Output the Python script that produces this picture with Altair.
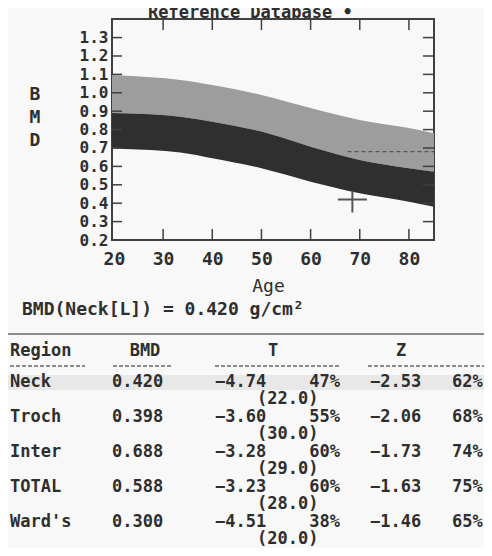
import altair as alt
import pandas as pd

# ---------------- data ----------------
ages = [19.5, 27.5, 33.5, 40, 50, 60, 70, 80, 85.5]
upper = [1.097, 1.084, 1.07, 1.042, 0.988, 0.917, 0.852, 0.808, 0.778]
middle = [0.89, 0.883, 0.87, 0.843, 0.789, 0.707, 0.635, 0.59, 0.569]
lower = [0.698, 0.689, 0.675, 0.644, 0.59, 0.517, 0.454, 0.408, 0.379]

patient_age = [68.5]
patient_bmd = [0.420]
dash_age = [67.5, 85.1]
dash_bmd = [0.68, 0.68]

y_tick_values = [0.3, 0.4, 0.5, 0.6, 0.7, 0.8, 0.9, 1.0, 1.1, 1.2, 1.3]
x_tick_values = [30, 40, 50, 60, 70, 80]
y_label_values = [0.2, 0.3, 0.4, 0.5, 0.6, 0.7, 0.8, 0.9, 1.0, 1.1, 1.2, 1.3]
x_label_values = [20, 30, 40, 50, 60, 70, 80]

regions = ["Neck", "Troch", "Inter", "TOTAL", "Ward's"]
bmd_vals = ["0.420", "0.398", "0.688", "0.588", "0.300"]
t_scores = ["−4.74", "−3.60", "−3.28", "−3.23", "−4.51"]
t_pct = ["47%", "55%", "60%", "60%", "38%"]
t_age = ["(22.0)", "(30.0)", "(29.0)", "(28.0)", "(20.0)"]
z_scores = ["−2.53", "−2.06", "−1.73", "−1.63", "−1.46"]
z_pct = ["62%", "68%", "74%", "75%", "65%"]
headers = ["Region", "BMD", "T", "Z"]

# ---------------- style ----------------
FONT = "DejaVu Sans Mono"
FS = 18
TXT = "#2e2e2e"
LIGHT = "#9d9d9d"
DARK = "#2f2f2f"
FRAME = "#404040"

X_DOM = [19.6, 85.1]
Y_DOM = [0.2, 1.401]

x_axis = alt.Axis(values=x_label_values, title="Age", labelFont=FONT, labelFontSize=FS,
                  labelFontWeight="bold", labelColor=TXT, labelPadding=10, ticks=False,
                  tickSize=0, domain=False, grid=False, labelFlush=False,
                  titleFont=FONT, titleFontSize=FS, titleFontWeight="normal",
                  titleColor=TXT, titlePadding=9, titleX=156)
y_axis = alt.Axis(values=y_label_values, title=None, format=".1f", labelFont=FONT,
                  labelFontSize=16, labelFontWeight="bold", labelColor=TXT,
                  labelPadding=4, ticks=False, tickSize=0, domain=False, grid=False,
                  labelFlush=False)

X = lambda f: alt.X(f, type="quantitative", scale=alt.Scale(domain=X_DOM, nice=False, zero=False), axis=x_axis)
Y = lambda f: alt.Y(f, type="quantitative", scale=alt.Scale(domain=Y_DOM, nice=False, zero=False), axis=y_axis)

curve = pd.DataFrame({"age": ages, "upper": upper, "middle": middle, "lower": lower})

band_light = alt.Chart(curve).mark_area(color=LIGHT, interpolate="monotone", clip=True).encode(
    x=X("age"), y=Y("upper"), y2="middle")
band_dark = alt.Chart(curve).mark_area(color=DARK, interpolate="monotone", clip=True).encode(
    x=X("age"), y=Y("middle"), y2="lower")

dash = alt.Chart(pd.DataFrame({"age": dash_age, "bmd": dash_bmd})).mark_line(
    color="#555555", strokeDash=[4, 3], strokeWidth=1.3, clip=True).encode(x=X("age"), y=Y("bmd"))

cross = alt.Chart(pd.DataFrame({"age": patient_age, "bmd": patient_bmd})).mark_point(
    shape="M-1,0L1,0M0,-0.55L0,0.9", size=841, filled=False, color="#555555",
    strokeWidth=2, opacity=1).encode(x=X("age"), y=Y("bmd"))

yt = pd.DataFrame({"bmd": y_tick_values})
xt = pd.DataFrame({"age": x_tick_values})
tick_style = dict(color=FRAME, strokeWidth=1.5)
tick_left = alt.Chart(yt).mark_rule(**tick_style).encode(y=Y("bmd"), x=alt.value(0), x2=alt.value(10))
tick_right = alt.Chart(yt).mark_rule(**tick_style).encode(y=Y("bmd"), x=alt.value(311), x2=alt.value(322))
tick_top = alt.Chart(xt).mark_rule(**tick_style).encode(x=X("age"), y=alt.value(0), y2=alt.value(11))
tick_bottom = alt.Chart(xt).mark_rule(**tick_style).encode(x=X("age"), y=alt.value(210), y2=alt.value(221))

plot = alt.layer(band_light, band_dark, dash, cross, tick_left, tick_right, tick_top, tick_bottom)

# ---------------- texts around plot ----------------
one = alt.Data(values=[{}])
txt = dict(font=FONT, fontSize=FS, fontWeight="bold", color=TXT)
txt17 = dict(font=FONT, fontSize=17, fontWeight="bold", color=TXT)

title = alt.Chart(one).mark_text(align="left", baseline="middle", **txt17).encode(
    x=alt.value(36), y=alt.value(-6), text=alt.value("Reference Database •"))
ytitle = alt.Chart(one).mark_text(align="center", baseline="middle", lineHeight=23, **txt).encode(
    x=alt.value(-77), y=alt.value(76), text=alt.value(["B", "M", "D"]))
formula = alt.Chart(one).mark_text(align="left", baseline="middle", **txt).encode(
    x=alt.value(-90), y=alt.value(291), text=alt.value("BMD(Neck[L]) = 0.420 g/cm²"))

# ---------------- table ----------------
tbl = pd.DataFrame({"row": list(range(len(regions))), "region": regions, "bmd": bmd_vals,
                    "t": t_scores, "tp": t_pct, "ta": t_age, "z": z_scores, "zp": z_pct})
RY = alt.Y("row:Q", scale=alt.Scale(domain=[0, 4], range=[363, 503]), axis=None)

frame = alt.Chart(one).mark_rect(fill=None, stroke="#6a6a6a", strokeWidth=1.5).encode(
    x=alt.value(-106), x2=alt.value(400), y=alt.value(315), y2=alt.value(540))
smear = alt.Chart(one).mark_rect(color="#d8d8d8", opacity=0.5).encode(
    x=alt.value(-107), x2=alt.value(380), y=alt.value(356), y2=alt.value(371))

hdr_left = alt.Chart(one).mark_text(align="left", baseline="middle", **txt17).encode(
    x=alt.value(-102), y=alt.value(332), text=alt.value(headers[0]))
hdr_bmd = alt.Chart(one).mark_text(align="center", baseline="middle", **txt17).encode(
    x=alt.value(33), y=alt.value(332), text=alt.value(headers[1]))
hdr_t = alt.Chart(one).mark_text(align="center", baseline="middle", **txt17).encode(
    x=alt.value(161), y=alt.value(332), text=alt.value(headers[2]))
hdr_z = alt.Chart(one).mark_text(align="center", baseline="middle", **txt17).encode(
    x=alt.value(289), y=alt.value(332), text=alt.value(headers[3]))

ul_style = dict(color="#6a6a6a", strokeWidth=1.5, strokeDash=[4, 2])
underlines = [alt.Chart(one).mark_rule(**ul_style).encode(
    x=alt.value(a), x2=alt.value(b), y=alt.value(347)) for a, b in [(-102, -27), (1, 61), (103, 228), (256, 380)]]


def col(field, xpos, align="left", dy=0, style=txt17):
    return alt.Chart(tbl).mark_text(align=align, baseline="middle", dy=dy, **style).encode(
        x=alt.value(xpos), y=RY, text=f"{field}:N")


table = alt.layer(
    col("region", -102), col("bmd", 0), col("t", 103), col("tp", 228, "right"),
    col("ta", 145, dy=17), col("z", 258), col("zp", 340))

chart = alt.layer(
    smear, plot, title, ytitle, formula, frame, hdr_left, hdr_bmd, hdr_t, hdr_z, *underlines, table
).resolve_scale(x="independent", y="independent").properties(
    width=322, height=221,
    padding={"left": 104, "top": 11, "right": 50, "bottom": 308},
    autosize=alt.AutoSizeParams(type="none"),
    background="#f8f8f8",
).configure_view(stroke=FRAME, strokeWidth=2)

chart.save("out.html", embed_options={"renderer": "svg", "actions": False})
